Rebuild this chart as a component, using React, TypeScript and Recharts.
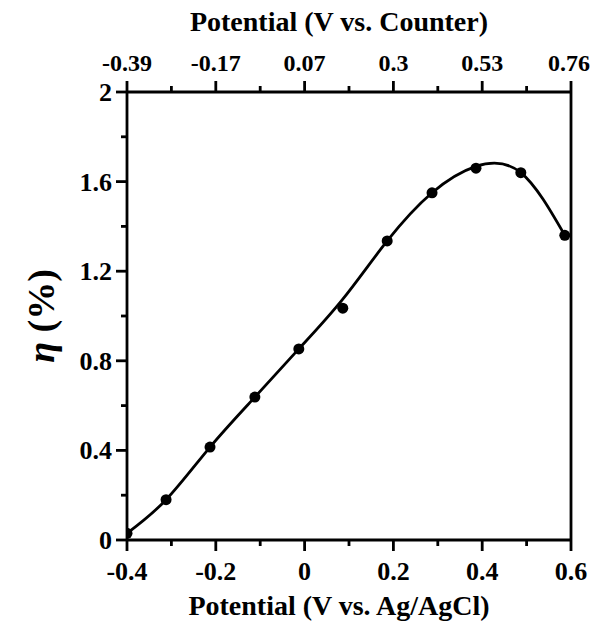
import React from 'react'
import { ComposedChart, Line, XAxis, YAxis } from 'recharts'

const POTENTIAL = [-0.4, -0.312, -0.213, -0.112, -0.013, 0.086, 0.186, 0.287, 0.386, 0.487, 0.586]
const ETA = [0.03, 0.18, 0.415, 0.638, 0.853, 1.035, 1.335, 1.55, 1.66, 1.64, 1.36]
// smooth fitted curve at the same potentials
const ETA_FIT = [0.03, 0.18, 0.415, 0.638, 0.853, 1.075, 1.335, 1.55, 1.668, 1.64, 1.36]
const X_TICKS = [-0.4, -0.3, -0.2, -0.1, 0, 0.1, 0.2, 0.3, 0.4, 0.5, 0.6]
const Y_TICKS = [0, 0.2, 0.4, 0.6, 0.8, 1, 1.2, 1.4, 1.6, 1.8, 2]
const TOP_LABELS = ['-0.39', '-0.17', '0.07', '0.3', '0.53', '0.76']

const data = POTENTIAL.map((x, i) => ({ x, eta: ETA[i], fit: ETA_FIT[i] }))

const FONT = '"Liberation Serif", "DejaVu Serif", serif'
const INK = '#000'
const SW = 2.8

function isMajorX(v: number) { return Math.round(v * 10) % 2 === 0 }
function isMajorY(v: number) { return Math.round(v * 10) % 4 === 0 }

function BottomTick({ x, y, payload }: any) {
  const v = payload.value
  const major = isMajorX(v)
  return (
    <g>
      <line x1={x} x2={x} y1={y} y2={y + (major ? 11 : 6)} stroke={INK} strokeWidth={SW} />
      {major && (
        <text x={x} y={y + 40} textAnchor="middle" fontFamily={FONT} fontWeight="bold" fontSize={26} fill={INK}>
          {Math.abs(v) < 1e-9 ? '0' : String(v)}
        </text>
      )}
    </g>
  )
}

function TopTick({ x, y, payload, index }: any) {
  const v = payload.value
  const major = isMajorX(v)
  const label = TOP_LABELS[index / 2]
  // keep the last label inside the page
  const tx = index === X_TICKS.length - 1 ? x - 2 : x
  return (
    <g>
      <line x1={x} x2={x} y1={y} y2={y - (major ? 11 : 6)} stroke={INK} strokeWidth={SW} />
      {major && (
        <text x={tx} y={y - 21} textAnchor="middle" fontFamily={FONT} fontWeight="bold" fontSize={24} fill={INK}>
          {label}
        </text>
      )}
    </g>
  )
}

function LeftTick({ x, y, payload }: any) {
  const v = payload.value
  const major = isMajorY(v)
  return (
    <g>
      <line x1={x} x2={x - (major ? 11 : 6)} y1={y} y2={y} stroke={INK} strokeWidth={SW} />
      {major && (
        <text x={x - 15} y={y + 9} textAnchor="end" fontFamily={FONT} fontWeight="bold" fontSize={26} fill={INK}>
          {String(v)}
        </text>
      )}
    </g>
  )
}

export default function App() {
  return (
    <div style={{ position: 'absolute', left: 0, top: 0, width: 592, height: 624, background: '#fff' }}>
      <ComposedChart width={592} height={624} data={data} margin={{ top: 0, right: 0, bottom: 0, left: 0 }}>
        <XAxis
          xAxisId="bottom" dataKey="x" type="number" domain={[-0.4, 0.6]} ticks={X_TICKS}
          orientation="bottom" height={84} tickSize={0} tickMargin={0} tickLine={false}
          axisLine={{ stroke: INK, strokeWidth: SW }} tick={<BottomTick />} interval={0}
          allowDataOverflow
        />
        <XAxis
          xAxisId="top" dataKey="x" type="number" domain={[-0.4, 0.6]} ticks={X_TICKS}
          orientation="top" height={92} tickSize={0} tickMargin={0} tickLine={false}
          axisLine={{ stroke: INK, strokeWidth: SW }} tick={<TopTick />} interval={0}
          allowDataOverflow
        />
        <YAxis
          yAxisId="left" type="number" domain={[0, 2]} ticks={Y_TICKS} width={127}
          tickSize={0} tickMargin={0} tickLine={false} interval={0}
          axisLine={{ stroke: INK, strokeWidth: SW }} tick={<LeftTick />}
        />
        <YAxis
          yAxisId="right" orientation="right" type="number" domain={[0, 2]} width={21}
          tick={false} tickLine={false} axisLine={{ stroke: INK, strokeWidth: SW }}
        />
        <Line
          xAxisId="bottom" yAxisId="left" type="natural" dataKey="fit"
          stroke={INK} strokeWidth={SW} isAnimationActive={false}
          dot={false} activeDot={false}
        />
        <Line
          xAxisId="bottom" yAxisId="left" type="linear" dataKey="eta"
          stroke="none" strokeWidth={0} isAnimationActive={false}
          dot={{ r: 5.5, fill: INK, stroke: INK, strokeWidth: 0 }} activeDot={false}
        />
        <text x={339} y={31} textAnchor="middle" fontFamily={FONT} fontWeight="bold" fontSize={28} fill={INK}>
          Potential (V vs. Counter)
        </text>
        <text x={339} y={615} textAnchor="middle" fontFamily={FONT} fontWeight="bold" fontSize={28} fill={INK}>
          Potential (V vs. Ag/AgCl)
        </text>
        <text x={0} y={0} transform="translate(54 316) rotate(-90)" textAnchor="middle" fontFamily={FONT} fontWeight="bold" fontSize={38} fill={INK}>
          <tspan fontStyle="italic">η</tspan> (%)
        </text>
      </ComposedChart>
    </div>
  )
}
